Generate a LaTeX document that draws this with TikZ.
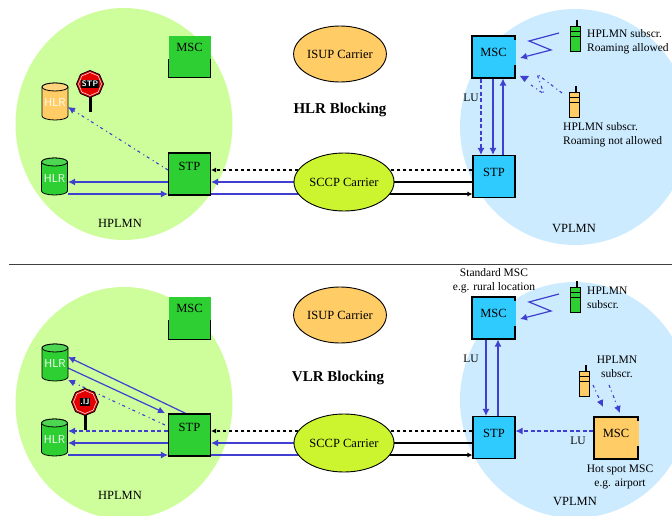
\documentclass[tikz,border=0pt]{standalone}
\usepackage{fontspec}
\setmainfont{Liberation Serif}
\usetikzlibrary{arrows.meta,shapes.geometric}
\definecolor{lgreen}{HTML}{CEFD9C}
\definecolor{lblue}{HTML}{CCEBFF}
\definecolor{mgreen}{HTML}{2ECF32}
\definecolor{cyanb}{HTML}{2FCBFF}
\definecolor{orangeb}{HTML}{FFCC66}
\definecolor{yellowg}{HTML}{CCF530}
\definecolor{linkb}{HTML}{3F3FD0}
\pgfdeclarelayer{clouds}
\pgfdeclarelayer{links}
\pgfsetlayers{clouds,links,main}
\tikzset{
  x=1pt,y=-1pt,
  cloudg/.style={ellipse,fill=lgreen,minimum width=217pt,minimum height=232pt,inner sep=0pt},
  cloudb/.style={ellipse,fill=lblue,minimum width=230pt,minimum height=236pt,inner sep=0pt},
  boxn/.style={draw=black,line width=1.1pt,minimum width=42pt,minimum height=42pt,inner sep=0pt,font=\fontsize{12.5}{13}\selectfont},
  openbox/.style={boxn,draw=none},
  carrier/.style={ellipse,draw=black,line width=.9pt,inner sep=0pt,font=\fontsize{12.5}{13}\selectfont},
  lbl/.style={inner sep=0pt,font=\fontsize{11.5}{14}\selectfont},
  plmn/.style={inner sep=0pt,font=\fontsize{12.5}{14}\selectfont},
  head/.style={inner sep=0pt,font=\fontsize{15}{16}\selectfont\bfseries},
  link/.style={draw=linkb,line width=1.2pt,-{Latex[length=7pt,width=7pt]}},
  plain/.style={draw=linkb,line width=1.2pt},
  dlink/.style={link,dash pattern=on 4pt off 2.5pt},
  dotlink/.style={link,line width=1.1pt,dash pattern=on 3pt off 3pt on 1pt off 4pt},
  blk/.style={draw=black,line width=1.1pt},
  blkarrow/.style={blk,-{Latex[length=5pt,width=5pt]}},
  stoplabel/.style={inner sep=.8pt,fill=black,text=white,font=\sffamily\fontsize{8}{8}\selectfont\bfseries},
  hlrtext/.style={inner sep=0pt,text=white,font=\sffamily\fontsize{11.5}{11}\selectfont},
  gapline/.style={line width=1.4pt},
}
\newcommand{\hlrdraw}[3]{% x-center, top y, colour
  \path[fill=#3,draw=black,line width=.8pt] (#1-13,#2+4) -- (#1-13,#2+33) arc[x radius=13,y radius=4,start angle=180,end angle=0] -- (#1+13,#2+4) arc[x radius=13,y radius=4,start angle=0,end angle=-180] -- cycle;
  \path[fill=#3!85!white,draw=black,line width=.8pt] (#1,#2+4) ellipse[x radius=13,y radius=4];
}
\newcommand{\stopsign}[2]{% cx, cy
  \draw[black,line width=3pt] (#1,#2+10) -- (#1,#2+28);
  \node[regular polygon,regular polygon sides=8,draw=black,fill=red!90!black,line width=.8pt,minimum size=27pt,inner sep=0pt,shape border rotate=22.5] at (#1,#2) {};
  \node[regular polygon,regular polygon sides=8,draw=white,line width=.5pt,minimum size=23pt,inner sep=0pt,shape border rotate=22.5] at (#1,#2) {};
}
\newcommand{\phonedraw}[3]{% left, top, colour
  \draw[black,line width=1.5pt] (#1+7,#2) -- (#1+7,#2+8);
  \draw[black,line width=.9pt,fill=#3] (#1,#2+6) rectangle (#1+10,#2+31);
  \draw[black,line width=.9pt] (#1,#2+11) -- (#1+10,#2+11) (#1,#2+16) -- (#1+10,#2+16);
}
\begin{document}
\begin{tikzpicture}
\useasboundingbox (0,0) rectangle (672,516);
\begin{pgfonlayer}{clouds}
\begin{scope}
\clip (0,0) rectangle (672,516);
\node[cloudg] (hp1) at (124,124) {};
\node[cloudb] (vp1) at (575,127) {};
\node[cloudg] (hp2) at (124,403) {};
\node[cloudb] (vp2) at (575,400) {};
\end{scope}
\end{pgfonlayer}

\draw[black!75,line width=1pt] (9,264) -- (672,264);

% ---- top panel ----
\node[head] (t1) at (340,110) {HLR Blocking};
\node[carrier,fill=orangeb,minimum width=90pt,minimum height=56pt] (isup1) at (340,54) {ISUP Carrier};
\node[carrier,fill=yellowg,minimum width=100pt,minimum height=58pt] (sccp1) at (344,182) {SCCP Carrier};
\node[openbox,fill=mgreen,text depth=20pt] (mscg1) at (189.5,57) {MSC};
\draw[black,line width=1pt] (168.5,59) -- (168.5,78) -- (210.5,78) -- (210.5,59);
\node[boxn,fill=mgreen,text depth=16pt] (stpg1) at (189.5,174) {STP};
\node[boxn,fill=cyanb,minimum width=43pt,text depth=10pt] (mscb1) at (493.5,57) {MSC};
\draw[cyanb,gapline] (515,40) -- (515,65);
\node[boxn,fill=cyanb,text depth=9pt] (stpb1) at (494,176.5) {STP};
\hlrdraw{55}{83}{orangeb}
\node[hlrtext] (h1a) at (55,103) {HLR};
\hlrdraw{54.5}{158}{mgreen}
\node[hlrtext] (h1b) at (54.5,179) {HLR};
\coordinate (hlrA) at (68,107);
\coordinate (hlrBa) at (68,182);
\coordinate (hlrBb) at (68,194);
\stopsign{90}{84}
\node[stoplabel] (s1) at (90,84) {STP};

\begin{pgfonlayer}{links}
\draw[link] (stpg1.west |- 0,182) -- (hlrBa);
\draw[link] (hlrBb) -- (stpg1.west |- 0,194);
\draw[dotlink] (stpg1.west |- 0,170) -- (hlrA);
\draw[blk,dashed,-{Latex[length=5pt,width=5pt]}] (stpb1.west |- 0,170) -- (stpg1.east |- 0,170);
\draw[link] (sccp1.center |- 0,182) -- (stpg1.east |- 0,182);
\draw[plain] (stpg1.east |- 0,194) -- (sccp1.center |- 0,194);
\draw[blk] (stpb1.west |- 0,182) -- (sccp1.center |- 0,182);
\draw[blkarrow] (sccp1.center |- 0,194) -- (stpb1.west |- 0,194);
\end{pgfonlayer}

\draw[dlink] (mscb1.south -| 481,0) -- (stpb1.north -| 481,0);
\draw[link] (mscb1.south -| 493,0) -- (stpb1.north -| 493,0);
\draw[link] (stpb1.north -| 503,0) -- (mscb1.south -| 503,0);
\node[lbl] (lu1) at (471,98) {LU};

\phonedraw{570}{20}{mgreen}
\phonedraw{569}{86}{orangeb}
\coordinate (z1) at (559,33); \coordinate (z2) at (529,41); \coordinate (z3) at (551,50); \coordinate (z4) at (520,58);
\draw[link] (z1) -- (z2) -- (z3) -- (z4);
\coordinate (y1) at (562,93); \coordinate (y2) at (537,74); \coordinate (y3) at (544,94); \coordinate (y4) at (531,85);
\draw[draw=linkb,line width=1.1pt,dash pattern=on 3pt off 3pt on 1pt off 4pt] (y1) -- (y2) -- (y3) -- (y4);
\fill[linkb] (520,76) -- (529,76) -- (524.5,82) -- cycle;
\node[lbl,anchor=west,align=left] (p1) at (587,42) {HPLMN subscr.\\Roaming allowed};
\node[lbl,anchor=west,align=left] (p2) at (563,135) {HPLMN subscr.\\Roaming not allowed};
\node[plmn] (hp1t) at (120,223) {HPLMN};
\node[plmn] (vp1t) at (574,229) {VPLMN};

% ---- bottom panel ----
\node[head] (t2) at (338,378) {VLR Blocking};
\node[carrier,fill=orangeb,minimum width=90pt,minimum height=56pt] (isup2) at (340,315) {ISUP Carrier};
\node[carrier,fill=yellowg,minimum width=100pt,minimum height=58pt] (sccp2) at (344,443) {SCCP Carrier};
\node[openbox,fill=mgreen,text depth=20pt] (mscg2) at (189.5,318) {MSC};
\draw[black,line width=1pt] (168.5,320) -- (168.5,339) -- (210.5,339) -- (210.5,320);
\node[boxn,fill=mgreen,text depth=16pt] (stpg2) at (189.5,435) {STP};
\node[boxn,fill=cyanb,minimum width=43pt,text depth=10pt] (mscb2) at (493.5,318) {MSC};
\draw[cyanb,gapline] (515,301) -- (515,326);
\node[boxn,fill=cyanb,text depth=9pt] (stpb2) at (494,437.5) {STP};
\node[boxn,fill=orangeb,minimum width=44pt,text depth=10pt] (msco2) at (616,438) {MSC};
\draw[orangeb,gapline] (638,421) -- (638,446);
\hlrdraw{55}{344}{mgreen}
\node[hlrtext] (h2a) at (55,364) {HLR};
\hlrdraw{54.5}{419}{mgreen}
\node[hlrtext] (h2b) at (54.5,440) {HLR};
\coordinate (hu1) at (68,357); \coordinate (hu2) at (68,368); \coordinate (hu3) at (68,380);
\coordinate (hl1) at (68,431); \coordinate (hl2) at (68,443); \coordinate (hl3) at (68,455);
\coordinate (su1) at (189,415); \coordinate (su2) at (165,413); \coordinate (su3) at (165,425);
\stopsign{85}{402}
\node[stoplabel] (s2) at (85,402) {.IJ};

\begin{pgfonlayer}{links}
\draw[link] (su1) -- (hu1);
\draw[link] (hu2) -- (su2);
\draw[dotlink] (su3) -- (hu3);
\draw[dlink] (stpg2.west |- 0,431) -- (hl1);
\draw[link] (stpg2.west |- 0,443) -- (hl2);
\draw[link] (hl3) -- (stpg2.west |- 0,455);
\draw[blk,dashed,-{Latex[length=5pt,width=5pt]}] (stpb2.west |- 0,431) -- (stpg2.east |- 0,431);
\draw[link] (sccp2.center |- 0,443) -- (stpg2.east |- 0,443);
\draw[plain] (stpg2.east |- 0,455) -- (sccp2.center |- 0,455);
\draw[blk] (stpb2.west |- 0,443) -- (sccp2.center |- 0,443);
\draw[blkarrow] (sccp2.center |- 0,455) -- (stpb2.west |- 0,455);
\end{pgfonlayer}

\draw[link] (mscb2.south -| 486,0) -- (stpb2.north -| 486,0);
\draw[link] (stpb2.north -| 498,0) -- (mscb2.south -| 498,0);
\node[lbl] (lu2) at (471,359) {LU};
\draw[dlink] (msco2.west |- 0,431) -- (stpb2.east |- 0,431);
\node[lbl] (lu3) at (578,441) {LU};

\phonedraw{579}{365}{orangeb}
\phonedraw{570}{281}{mgreen}
\coordinate (w1) at (559,294); \coordinate (w2) at (529,302); \coordinate (w3) at (551,311); \coordinate (w4) at (520,319);
\draw[link] (w1) -- (w2) -- (w3) -- (w4);
\coordinate (v1) at (593,385); \coordinate (v2) at (603,407);
\coordinate (v3) at (609,385); \coordinate (v4) at (620,413);
\draw[dotlink] (v1) -- (v2);
\draw[dotlink] (v3) -- (v4);
\node[lbl,anchor=west,align=left] (p3) at (587,298) {HPLMN\\subscr.};
\node[lbl,align=center] (p4) at (617,367) {HPLMN\\subscr.};
\node[lbl,align=center] (p5) at (494,280.5) {Standard MSC\\e.g. rural location};
\node[lbl,align=center] (p6) at (620,477) {Hot spot MSC\\e.g. airport};
\node[plmn] (hp2t) at (120,495) {HPLMN};
\node[plmn] (vp2t) at (575,501) {VPLMN};
\end{tikzpicture}
\end{document}
